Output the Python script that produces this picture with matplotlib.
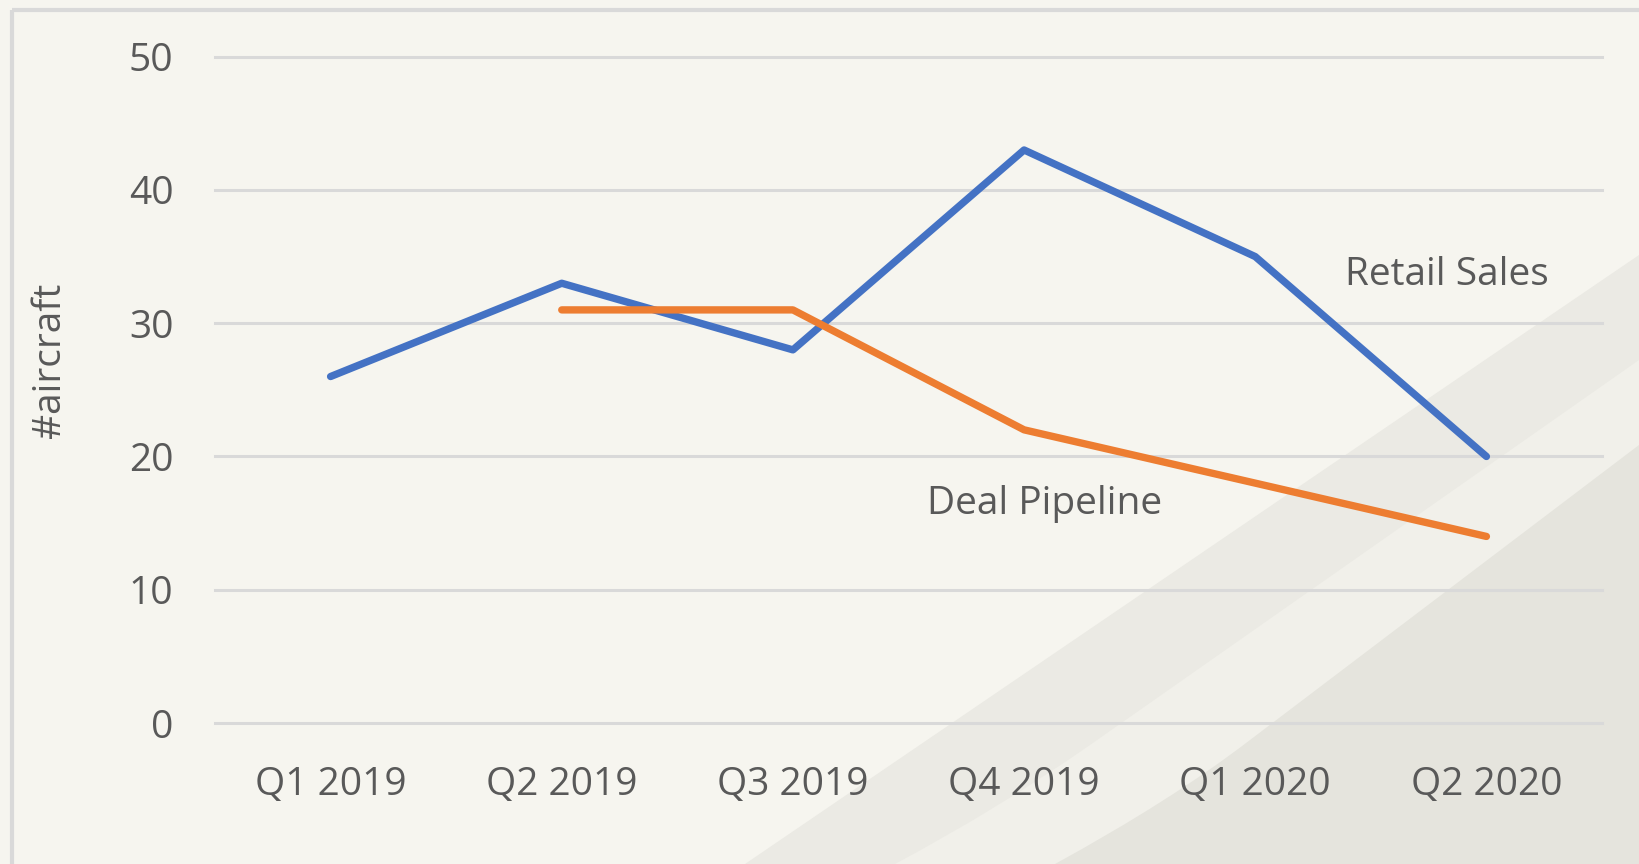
import matplotlib
matplotlib.use('Agg')
import matplotlib.pyplot as plt
from matplotlib.patches import Polygon, Rectangle, PathPatch
from matplotlib.path import Path

# data
quarters = ['Q1 2019', 'Q2 2019', 'Q3 2019', 'Q4 2019', 'Q1 2020', 'Q2 2020']
retail_sales = [26, 33, 28, 43, 35, 20]
deal_pipeline = [None, 31, 31, 22, 18, 14]
y_ticks = [0, 10, 20, 30, 40, 50]

BG = '#F6F5EF'
TEXT = '#595959'
GRID = '#D9D9D9'
BLUE = '#4472C4'
ORANGE = '#ED7D31'

plt.rcParams['font.family'] = ['Open Sans', 'DejaVu Sans']

W, H = 1639, 864
fig = plt.figure(figsize=(W / 100, H / 100), dpi=100, facecolor=BG)


def swoosh(top_y, line_end, ctrl, bottom_x, color):
    # band edge: straight from right border, curving into a flat tail at the bottom
    verts = [(W, top_y), line_end, ctrl, (bottom_x, H), (W, H), (W, top_y)]
    codes = [Path.MOVETO, Path.LINETO, Path.CURVE3, Path.CURVE3,
             Path.LINETO, Path.CLOSEPOLY]
    return PathPatch(Path(verts, codes), facecolor=color, edgecolor='none')


# background decoration layer in pixel coords
bg = fig.add_axes([0, 0, 1, 1], zorder=0)
bg.set_xlim(0, W)
bg.set_ylim(H, 0)
bg.axis('off')
bg.add_patch(Polygon([(745, H), (W, 255), (W, H)], closed=True,
                     facecolor='#EBEAE4', edgecolor='none'))
bg.add_patch(swoosh(360, (1090, 745), (1000, 808), 895, '#F1F0EA'))
bg.add_patch(swoosh(445, (1250, 740), (1172, 800), 1055, '#E5E4DD'))
# chart frame (only top/left visible)
bg.add_patch(Rectangle((12, 10), 2000, 2000, facecolor='none',
                       edgecolor=GRID, linewidth=3))

ax = fig.add_axes([215 / W, 1 - 723 / H, 1387 / W, (723 - 56.7) / H], zorder=1)
ax.patch.set_alpha(0)
for s in ax.spines.values():
    s.set_visible(False)

x = list(range(len(quarters)))
ax.set_xlim(-0.5, len(quarters) - 0.5)
ax.set_ylim(0, 50)

for v in y_ticks:
    ax.axhline(v, color=GRID, linewidth=2.2, clip_on=False, zorder=1)

ax.plot(x, retail_sales, color=BLUE, linewidth=5.3, solid_capstyle='round',
        solid_joinstyle='round', zorder=3)
dx = [i for i, v in zip(x, deal_pipeline) if v is not None]
dy = [v for v in deal_pipeline if v is not None]
ax.plot(dx, dy, color=ORANGE, linewidth=5.3, solid_capstyle='round',
        solid_joinstyle='round', zorder=3)

ax.set_xticks(x)
ax.set_xticklabels(quarters)
ax.set_yticks(y_ticks)
ax.tick_params(axis='both', length=0, colors=TEXT, labelsize=28)
ax.tick_params(axis='y', pad=30)
ax.tick_params(axis='x', pad=31)

ax.text(4.389, 32.9, 'Retail Sales', color=TEXT, fontsize=28, va='baseline', ha='left')
ax.text(2.58, 15.7, 'Deal Pipeline', color=TEXT, fontsize=28, va='baseline', ha='left')

fig.text(50 / W, 1 - 360 / H, '#aircraft', rotation=90, color=TEXT, fontsize=28,
         ha='center', va='center')

fig.savefig('out.png', dpi=100, facecolor=BG)
